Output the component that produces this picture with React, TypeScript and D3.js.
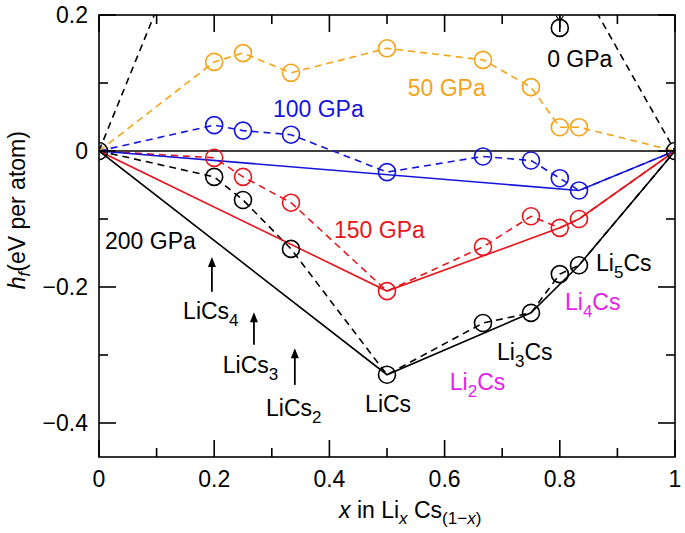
import React from "react";
import * as d3 from "d3";

const W = 685;
const H = 533;

// compositions x in LixCs(1-x)
const xs = [0, 0.2, 0.25, 1 / 3, 0.5, 2 / 3, 0.75, 0.8, 5 / 6, 1];
const h50 = [0, 0.131, 0.144, 0.115, 0.151, 0.134, 0.094, 0.035, 0.035, 0];
const h100 = [0, 0.038, 0.03, 0.024, -0.031, -0.008, -0.014, -0.04, -0.058, 0];
const h150 = [0, -0.01, -0.038, -0.076, -0.206, -0.141, -0.096, -0.113, -0.1, 0];
const h200 = [0, -0.038, -0.072, -0.144, -0.329, -0.253, -0.238, -0.181, -0.168, 0];
const hull100 = [0, 8, 9];
const hull150 = [0, 4, 7, 8, 9];
const hull200 = [0, 4, 6, 8, 9];
// 0 GPa (mostly off-scale)
const zeroLeft: [number, number][] = [[0, 0], [0.2, 0.417]];
const zeroRight: [number, number][] = [[5 / 6, 0.25], [1, 0]];
const zeroPoint: [number, number] = [0.8, 0.181];

const xTicksMajor = [0, 0.2, 0.4, 0.6, 0.8, 1];
const xTickLabels = ["0", "0.2", "0.4", "0.6", "0.8", "1"];
const xTicksMinor = [0.1, 0.3, 0.5, 0.7, 0.9];
const yTicksMajor = [0.2, 0, -0.2, -0.4];
const yTickLabels = ["0.2", "0", "\u22120.2", "\u22120.4"];
const yTicksMinor = [0.1, -0.1, -0.3];

const C50 = "#f5a31a";
const C100 = "#1414dc";
const C150 = "#e8141c";
const CMAG = "#e61ee6";

const FONT = "'Liberation Sans', Arial, Helvetica, sans-serif";
const FS = 23;
const SFS = 17;

export default function App() {
  const x = d3.scaleLinear().domain([0, 1]).range([99, 675]);
  const y = d3.scaleLinear().domain([-0.45, 0.2]).range([457, 15]);
  const line = d3
    .line<[number, number]>()
    .x((d) => x(d[0]))
    .y((d) => y(d[1]));
  const pts = (h: number[]) => xs.map((v, i) => [v, h[i]] as [number, number]);
  const hullPts = (h: number[], idx: number[]) => idx.map((i) => [xs[i], h[i]] as [number, number]);

  const series = [
    { h: h50, c: C50 },
    { h: h100, c: C100 },
    { h: h150, c: C150 },
    { h: h200, c: "#000" },
  ];
  const hulls = [
    { h: h100, idx: hull100, c: C100 },
    { h: h150, idx: hull150, c: C150 },
    { h: h200, idx: hull200, c: "#000" },
  ];
  const dash = "7,5";
  const R = 8.5;

  const sub = (main: string, s: string, rest = "") => (
    <>
      {main}
      <tspan fontSize={SFS} dy={7}>{s}</tspan>
      <tspan dy={-7}>{rest}</tspan>
    </>
  );

  const arrow = (xv: number, y0: number, y1: number, key: string) => {
    const X = x(xv);
    const Y0 = y(y0);
    const Y1 = y(y1);
    return (
      <g key={key}>
        <line x1={X} x2={X} y1={Y0} y2={Y1 + 8} stroke="#000" strokeWidth={1.8} />
        <path d={`M${X - 4},${Y1 + 10} L${X},${Y1} L${X + 4},${Y1 + 10} Z`} fill="#000" />
      </g>
    );
  };

  const labels = [
    { xv: 0.778, yv: 0.1235, c: "#000", t: <>0 GPa</> },
    { xv: 0.536, yv: 0.081, c: C50, t: <>50 GPa</> },
    { xv: 0.302, yv: 0.05, c: C100, t: <>100 GPa</> },
    { xv: 0.408, yv: -0.128, c: C150, t: <>150 GPa</> },
    { xv: 0.0104, yv: -0.144, c: "#000", t: <>200 GPa</> },
    { xv: 0.146, yv: -0.247, c: "#000", t: sub("LiCs", "4") },
    { xv: 0.215, yv: -0.326, c: "#000", t: sub("LiCs", "3") },
    { xv: 0.29, yv: -0.39, c: "#000", t: sub("LiCs", "2") },
    { xv: 0.462, yv: -0.384, c: "#000", t: <>LiCs</> },
    { xv: 0.609, yv: -0.351, c: CMAG, t: sub("Li", "2", "Cs") },
    { xv: 0.691, yv: -0.307, c: "#000", t: sub("Li", "3", "Cs") },
    { xv: 0.809, yv: -0.234, c: CMAG, t: sub("Li", "4", "Cs") },
    { xv: 0.863, yv: -0.176, c: "#000", t: sub("Li", "5", "Cs") },
  ];

  return (
    <svg
      width={W}
      height={H}
      style={{ position: "absolute", left: 0, top: 0, background: "#fff" }}
      fontFamily={FONT}
    >
      <defs>
        <clipPath id="plot">
          <rect x={x(0)} y={y(0.2)} width={x(1) - x(0)} height={y(-0.45) - y(0.2)} />
        </clipPath>
      </defs>
      <rect width={W} height={H} fill="#fff" />

      {/* zero line */}
      <line x1={x(0)} x2={x(1)} y1={y(0)} y2={y(0)} stroke="#000" strokeWidth={1.6} />

      <g clipPath="url(#plot)">
        <path d={line(zeroLeft) || ""} fill="none" stroke="#000" strokeWidth={1.6} strokeDasharray={dash} />
        <path d={line(zeroRight) || ""} fill="none" stroke="#000" strokeWidth={1.6} strokeDasharray={dash} />
        {series.map((s, i) => (
          <path key={"d" + i} d={line(pts(s.h)) || ""} fill="none" stroke={s.c} strokeWidth={1.6} strokeDasharray={dash} />
        ))}
        {hulls.map((s, i) => (
          <path key={"h" + i} d={line(hullPts(s.h, s.idx)) || ""} fill="none" stroke={s.c} strokeWidth={1.6} />
        ))}
        {series.map((s, i) =>
          pts(s.h)
            .slice(1, -1)
            .map((p, j) => (
              <circle key={`c${i}-${j}`} cx={x(p[0])} cy={y(p[1])} r={R} fill="none" stroke={s.c} strokeWidth={1.6} />
            ))
        )}
        <circle cx={x(0)} cy={y(0)} r={R} fill="none" stroke="#000" strokeWidth={1.6} />
        <circle cx={x(1)} cy={y(0)} r={R} fill="none" stroke="#000" strokeWidth={1.6} />
        <circle cx={x(zeroPoint[0])} cy={y(zeroPoint[1])} r={R} fill="none" stroke="#000" strokeWidth={1.6} />
        <line x1={x(zeroPoint[0])} x2={x(zeroPoint[0])} y1={y(0.2)} y2={y(zeroPoint[1])} stroke="#000" strokeWidth={1.6} />
        <path
          d={`M${x(zeroPoint[0]) - 3.5},${y(0.2) + 1} L${x(zeroPoint[0])},${y(zeroPoint[1]) - R + 2} L${x(zeroPoint[0]) + 3.5},${y(0.2) + 1}`}
          fill="none"
          stroke="#000"
          strokeWidth={1.2}
        />
      </g>

      {/* arrows */}
      {arrow(0.196, -0.207, -0.156, "a4")}
      {arrow(0.269, -0.285, -0.237, "a3")}
      {arrow(0.34, -0.344, -0.29, "a2")}

      {/* labels */}
      {labels.map((l, i) => (
        <text key={"l" + i} x={x(l.xv)} y={y(l.yv)} fill={l.c} fontSize={FS}>
          {l.t}
        </text>
      ))}

      {/* frame */}
      <rect x={x(0)} y={y(0.2)} width={x(1) - x(0)} height={y(-0.45) - y(0.2)} fill="none" stroke="#000" strokeWidth={1.6} />

      {/* ticks */}
      {xTicksMajor.map((t) => (
        <g key={"xt" + t}>
          <line x1={x(t)} x2={x(t)} y1={y(-0.45)} y2={y(-0.45) - 17} stroke="#000" strokeWidth={1.6} />
          <line x1={x(t)} x2={x(t)} y1={y(0.2)} y2={y(0.2) + 17} stroke="#000" strokeWidth={1.6} />
        </g>
      ))}
      {xTicksMinor.map((t) => (
        <g key={"xm" + t}>
          <line x1={x(t)} x2={x(t)} y1={y(-0.45)} y2={y(-0.45) - 9} stroke="#000" strokeWidth={1.6} />
          <line x1={x(t)} x2={x(t)} y1={y(0.2)} y2={y(0.2) + 9} stroke="#000" strokeWidth={1.6} />
        </g>
      ))}
      {yTicksMajor.map((t) => (
        <g key={"yt" + t}>
          <line x1={x(0)} x2={x(0) + 17} y1={y(t)} y2={y(t)} stroke="#000" strokeWidth={1.6} />
          <line x1={x(1)} x2={x(1) - 17} y1={y(t)} y2={y(t)} stroke="#000" strokeWidth={1.6} />
        </g>
      ))}
      {yTicksMinor.map((t) => (
        <g key={"ym" + t}>
          <line x1={x(0)} x2={x(0) + 9} y1={y(t)} y2={y(t)} stroke="#000" strokeWidth={1.6} />
          <line x1={x(1)} x2={x(1) - 9} y1={y(t)} y2={y(t)} stroke="#000" strokeWidth={1.6} />
        </g>
      ))}

      {/* tick labels */}
      {xTicksMajor.map((t, i) => (
        <text key={"xl" + t} x={x(t)} y={y(-0.45) + 30} fontSize={FS} textAnchor="middle">
          {xTickLabels[i]}
        </text>
      ))}
      {yTicksMajor.map((t, i) => (
        <text key={"yl" + t} x={x(0) - 11} y={y(t) + 8} fontSize={FS} textAnchor="end">
          {yTickLabels[i]}
        </text>
      ))}

      {/* axis titles */}
      <text x={339} y={518} fontSize={FS}>
        <tspan fontStyle="italic">x</tspan>
        <tspan> in Li</tspan>
        <tspan fontSize={SFS} fontStyle="italic" dy={6}>x</tspan>
        <tspan dy={-6}> Cs</tspan>
        <tspan fontSize={SFS} dy={6}>(1</tspan>
        <tspan fontSize={SFS}>{"\u2212"}</tspan>
        <tspan fontSize={SFS} fontStyle="italic">x</tspan>
        <tspan fontSize={SFS}>)</tspan>
      </text>
      <text transform={`translate(25,${y(-0.087)}) rotate(-90)`} fontSize={FS} textAnchor="middle">
        <tspan fontStyle="italic">h</tspan>
        <tspan fontSize={SFS} fontStyle="italic" dy={5}>f</tspan>
        <tspan dy={-5}>(eV per atom)</tspan>
      </text>
    </svg>
  );
}
